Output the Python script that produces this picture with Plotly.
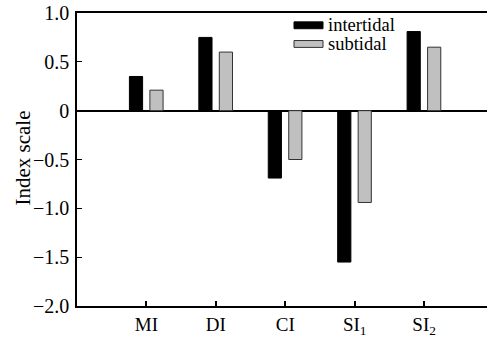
import plotly.graph_objects as go

categories = ["MI", "DI", "CI", "SI<sub>1</sub>", "SI<sub>2</sub>"]
positions = [1, 2, 3, 4, 5]
intertidal = [0.35, 0.75, -0.69, -1.55, 0.81]
subtidal = [0.21, 0.60, -0.50, -0.94, 0.65]
ytick_vals = [1.0, 0.5, 0, -0.5, -1.0, -1.5, -2.0]
ytick_text = ["1.0", "0.5", "0", "\u22120.5", "\u22121.0", "\u22121.5", "\u22122.0"]

FONT = "Liberation Serif"
FS = 18

fig = go.Figure()
fig.add_trace(go.Bar(x=positions, y=intertidal, name="intertidal",
                     offset=-0.245, width=0.19,
                     marker=dict(color="black", line=dict(color="black", width=1)),
                     showlegend=False))
fig.add_trace(go.Bar(x=positions, y=subtidal, name="subtidal",
                     offset=0.05, width=0.19,
                     marker=dict(color="#c0c0c0", line=dict(color="#333333", width=1)),
                     showlegend=False))

# manual legend
fig.add_shape(type="rect", xref="paper", yref="paper", x0=(294-77)/410, x1=(323-77)/410,
              y0=(311-29)/298, y1=(311-22)/298, fillcolor="black", line=dict(color="black", width=1))
fig.add_shape(type="rect", xref="paper", yref="paper", x0=(294-77)/410, x1=(323-77)/410,
              y0=(311-48)/298, y1=(311-41)/298, fillcolor="#c0c0c0", line=dict(color="#333333", width=1))
fig.add_annotation(xref="paper", yref="paper", x=(326-77)/410, y=(311-25.5)/298, text="intertidal",
                   showarrow=False, xanchor="left", yanchor="middle", font=dict(family=FONT, size=18.5, color="black"))
fig.add_annotation(xref="paper", yref="paper", x=(326-77)/410, y=(311-44.5)/298, text="subtidal",
                   showarrow=False, xanchor="left", yanchor="middle", font=dict(family=FONT, size=18.5, color="black"))
# y-axis title
fig.add_annotation(xref="paper", yref="paper", x=(23-77)/410, y=(311-161)/298, text="Index scale",
                   textangle=-90, showarrow=False, xanchor="center", yanchor="middle",
                   font=dict(family=FONT, size=21, color="black"))

fig.update_layout(
    width=487, height=338,
    margin=dict(l=77, r=0, t=13, b=27),
    plot_bgcolor="white", paper_bgcolor="white",
    font=dict(family=FONT, size=FS, color="black"),
    barmode="overlay",
    xaxis=dict(range=[0, 5.906], tickvals=positions, ticktext=categories,
               tickfont=dict(family=FONT, size=19, color="black"),
               showline=True, linecolor="black", linewidth=1.5, mirror=True,
               ticks="inside", ticklen=5, tickwidth=1.5, tickcolor="black",
               showgrid=False, zeroline=False),
    yaxis=dict(range=[-2.0, 1.0], tickvals=ytick_vals, ticktext=ytick_text,
               tickfont=dict(family=FONT, size=20, color="black"),
               showline=True, linecolor="black", linewidth=1.5,
               ticks="inside", ticklen=5, tickwidth=1, tickcolor="black",
               showgrid=False, zeroline=True, zerolinecolor="black", zerolinewidth=1.5,
               ticklabelstandoff=2),
)

fig.write_html("out.html")
